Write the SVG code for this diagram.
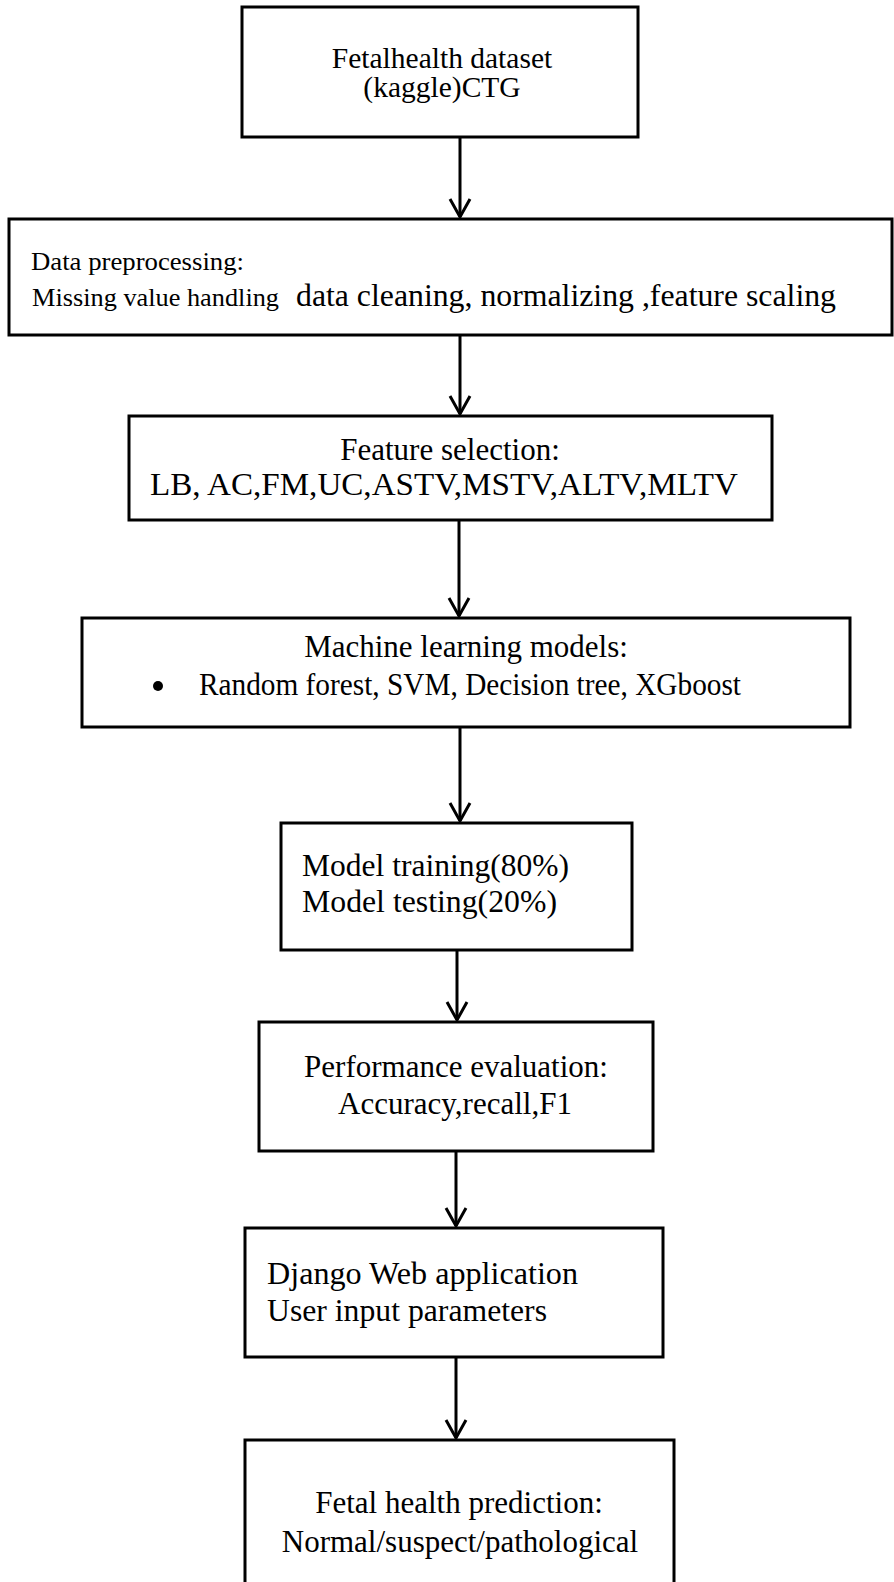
<svg xmlns="http://www.w3.org/2000/svg" width="894" height="1582" viewBox="0 0 894 1582">
<style>
.box{fill:#fff;stroke:#000;stroke-width:3}
.t{font-family:"Liberation Serif","Times New Roman",serif;fill:#000;font-size:31px}
.s{font-size:26px}
.c{text-anchor:middle}
.conn line{stroke:#000;stroke-width:3}
</style>
<defs>
<marker id="ah" viewBox="-22 -14 26 28" refX="0" refY="0" markerWidth="26" markerHeight="28" markerUnits="userSpaceOnUse" orient="auto">
<path d="M-18,-10 L0,0 L-18,10" fill="none" stroke="#000" stroke-width="3"/>
</marker>
</defs>
<rect width="894" height="1582" fill="#fff"/>
<g id="connectors" class="conn">
<line x1="460" y1="137" x2="460" y2="217" marker-end="url(#ah)"/>
<line x1="460" y1="335" x2="460" y2="414" marker-end="url(#ah)"/>
<line x1="459" y1="520" x2="459" y2="616" marker-end="url(#ah)"/>
<line x1="460" y1="727" x2="460" y2="821" marker-end="url(#ah)"/>
<line x1="457" y1="950" x2="457" y2="1020" marker-end="url(#ah)"/>
<line x1="456" y1="1151" x2="456" y2="1226" marker-end="url(#ah)"/>
<line x1="456" y1="1357" x2="456" y2="1438" marker-end="url(#ah)"/>
</g>
<g id="n1">
<rect class="box" x="242" y="7" width="396" height="130"/>
<text class="t c" x="442" y="68" style="font-size:29.5px">Fetalhealth dataset</text>
<text class="t c" x="442" y="97" style="font-size:29.5px">(kaggle)CTG</text>
</g>
<g id="n2">
<rect class="box" x="9" y="219" width="883" height="116"/>
<text class="t s" x="31" y="270" textLength="213" lengthAdjust="spacingAndGlyphs">Data preprocessing:</text>
<text class="t s" x="32" y="306" textLength="247" lengthAdjust="spacingAndGlyphs">Missing value handling</text>
<text class="t" x="296" y="306" textLength="540" lengthAdjust="spacingAndGlyphs">data cleaning, normalizing ,feature scaling</text>
</g>
<g id="n3">
<rect class="box" x="129" y="416" width="643" height="104"/>
<text class="t c" x="450" y="460">Feature selection:</text>
<text class="t" x="150" y="495" textLength="588" lengthAdjust="spacingAndGlyphs">LB, AC,FM,UC,ASTV,MSTV,ALTV,MLTV</text>
</g>
<g id="n4">
<rect class="box" x="82" y="618" width="768" height="109"/>
<text class="t c" x="466" y="657">Machine learning models:</text>
<circle cx="158" cy="686" r="5" fill="#000"/>
<text class="t" x="199" y="695" textLength="542" lengthAdjust="spacingAndGlyphs">Random forest, SVM, Decision tree, XGboost</text>
</g>
<g id="n5">
<rect class="box" x="281" y="823" width="351" height="127"/>
<text class="t" x="302" y="876" textLength="267" lengthAdjust="spacingAndGlyphs">Model training(80%)</text>
<text class="t" x="302" y="912" textLength="255" lengthAdjust="spacingAndGlyphs">Model testing(20%)</text>
</g>
<g id="n6">
<rect class="box" x="259" y="1022" width="394" height="129"/>
<text class="t c" x="456" y="1077">Performance evaluation:</text>
<text class="t c" x="455" y="1114">Accuracy,recall,F1</text>
</g>
<g id="n7">
<rect class="box" x="245" y="1228" width="418" height="129"/>
<text class="t" x="267" y="1284" textLength="311" lengthAdjust="spacingAndGlyphs">Django Web application</text>
<text class="t" x="267" y="1321" textLength="280" lengthAdjust="spacingAndGlyphs">User input parameters</text>
</g>
<g id="n8">
<rect class="box" x="245" y="1440" width="429" height="170"/>
<text class="t c" x="459" y="1513">Fetal health prediction:</text>
<text class="t c" x="460" y="1552">Normal/suspect/pathological</text>
</g>
</svg>
